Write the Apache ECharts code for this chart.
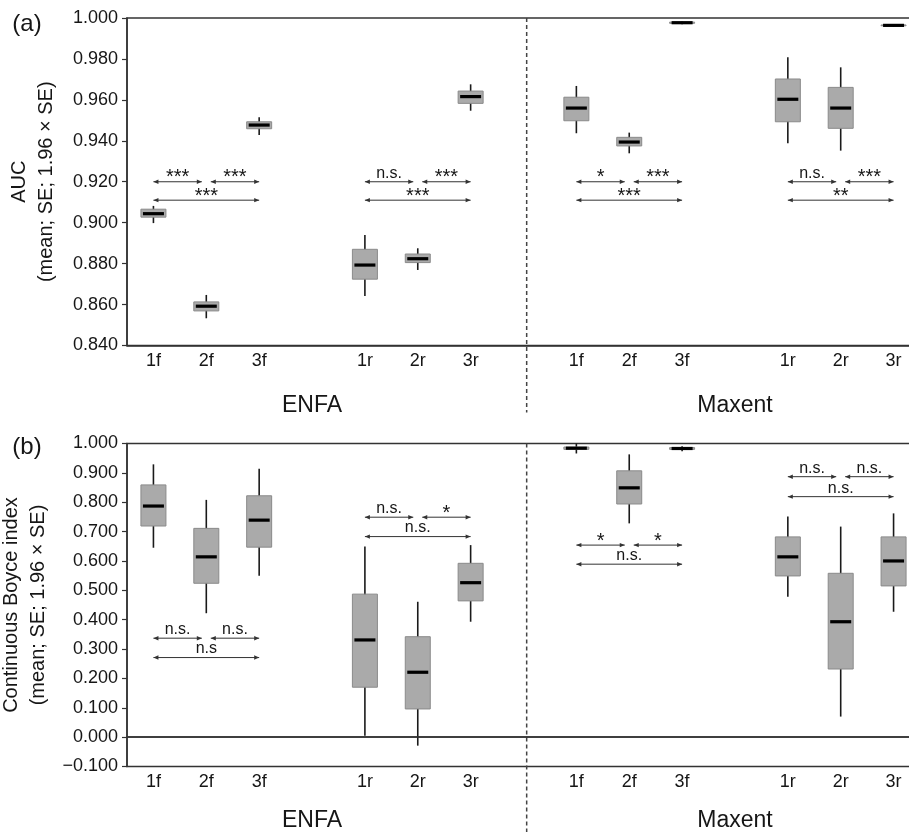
<!DOCTYPE html>
<html>
<head>
<meta charset="utf-8">
<script src="https://cdn.jsdelivr.net/npm/echarts@6/dist/echarts.min.js"></script>
<style>
  html, body { margin: 0; padding: 0; background: #fff; }
  #chart { width: 909px; height: 832px; }
</style>
</head>
<body>
<div id="chart"></div>
<script>
// x categories, blank slots are the gaps between groups
const tickLabels = ['1f', '2f', '3f', '', '1r', '2r', '3r', '', '1f', '2f', '3f', '', '1r', '2r', '3r']
const groupNames = ['ENFA', 'Maxent']
// slot of each box on the category axis
const boxSlots = [0, 1, 2, 4, 5, 6, 8, 9, 10, 12, 13, 14]

// [low whisker, Q1, median, Q3, high whisker]
const aucBoxes = [
  [0.8998, 0.9027, 0.9044, 0.9066, 0.9082],
  [0.8533, 0.8569, 0.8592, 0.8613, 0.8647],
  [0.9428, 0.9459, 0.9477, 0.9493, 0.9515],
  [0.8642, 0.8724, 0.8793, 0.8870, 0.8940],
  [0.8769, 0.8805, 0.8824, 0.8847, 0.8875],
  [0.9547, 0.9583, 0.9616, 0.9643, 0.9676],
  [0.9437, 0.9498, 0.9560, 0.9613, 0.9668],
  [0.9339, 0.9375, 0.9394, 0.9417, 0.9440],
  [0.9970, 0.9974, 0.9977, 0.9980, 0.9983],
  [0.9388, 0.9493, 0.9603, 0.9702, 0.9808],
  [0.9352, 0.9461, 0.9560, 0.9661, 0.9759],
  [0.9958, 0.9962, 0.9964, 0.9966, 0.9970]
]
const boyceBoxes = [
  [0.645, 0.719, 0.787, 0.859, 0.929],
  [0.422, 0.524, 0.614, 0.711, 0.808],
  [0.550, 0.647, 0.739, 0.822, 0.914],
  [0.005, 0.170, 0.331, 0.487, 0.649],
  [-0.029, 0.096, 0.221, 0.342, 0.461],
  [0.393, 0.464, 0.526, 0.592, 0.654],
  [0.966, 0.980, 0.984, 0.988, 1.000],
  [0.728, 0.794, 0.849, 0.907, 0.963],
  [0.974, 0.980, 0.983, 0.986, 0.991],
  [0.478, 0.549, 0.614, 0.682, 0.751],
  [0.070, 0.232, 0.393, 0.558, 0.717],
  [0.427, 0.515, 0.600, 0.682, 0.762]
]

// significance arrows: [from slot, to slot, y, text, trim start, trim end]
const aucTests = [
  [0, 1, 0.920, '***', 0, 1], [1, 2, 0.920, '***', 1, 0], [0, 2, 0.911, '***', 0, 0],
  [4, 5, 0.920, 'n.s.', 0, 1], [5, 6, 0.920, '***', 1, 0], [4, 6, 0.911, '***', 0, 0],
  [8, 9, 0.920, '*', 0, 1], [9, 10, 0.920, '***', 1, 0], [8, 10, 0.911, '***', 0, 0],
  [12, 13, 0.920, 'n.s.', 0, 1], [13, 14, 0.920, '***', 1, 0], [12, 14, 0.911, '**', 0, 0]
]
const boyceTests = [
  [0, 1, 0.337, 'n.s.', 0, 1], [1, 2, 0.337, 'n.s.', 1, 0], [0, 2, 0.271, 'n.s', 0, 0],
  [4, 5, 0.749, 'n.s.', 0, 1], [5, 6, 0.749, '*', 1, 0], [4, 6, 0.683, 'n.s.', 0, 0],
  [8, 9, 0.654, '*', 0, 1], [9, 10, 0.654, '*', 1, 0], [8, 10, 0.589, 'n.s.', 0, 0],
  [12, 13, 0.887, 'n.s.', 0, 1], [13, 14, 0.887, 'n.s.', 1, 0], [12, 14, 0.819, 'n.s.', 0, 0]
]

const FONT = '"Liberation Sans", Arial, sans-serif'
const INK = '#161616'

function renderBox(params, api) {
  const x = api.value(0)
  const lo = api.coord([x, api.value(1)])
  const q1 = api.coord([x, api.value(2)])
  const md = api.coord([x, api.value(3)])
  const q3 = api.coord([x, api.value(4)])
  const hi = api.coord([x, api.value(5)])
  const half = 12.5
  const cx = md[0]
  return {
    type: 'group',
    children: [
      { type: 'line', shape: { x1: cx, y1: hi[1], x2: cx, y2: lo[1] }, style: { stroke: '#1a1a1a', lineWidth: 1.6 } },
      { type: 'rect', shape: { x: cx - half, y: q3[1], width: half * 2, height: q1[1] - q3[1] }, style: { fill: '#aaaaaa', stroke: '#8a8a8a', lineWidth: 1 } },
      { type: 'line', shape: { x1: cx - half + 2, y1: md[1], x2: cx + half - 2, y2: md[1] }, style: { stroke: '#000', lineWidth: 3.2 } }
    ]
  }
}

function testRenderer(tests) {
  return function (params, api) {
    const t = tests[params.dataIndex]
    const a = api.coord([t[0], t[2]])
    const b = api.coord([t[1], t[2]])
    const band = api.size([1, 0])[0]
    const x1 = a[0] + t[4] * band * 0.085
    const x2 = b[0] - t[5] * band * 0.085
    const y = a[1]
    const stars = t[3].charAt(0) === '*'
    return {
      type: 'group',
      children: [
        { type: 'line', shape: { x1: x1, y1: y, x2: x2, y2: y }, style: { stroke: '#333', lineWidth: 1 } },
        { type: 'polygon', shape: { points: [[x1, y], [x1 + 5, y - 2.2], [x1 + 5, y + 2.2]] }, style: { fill: '#333' } },
        { type: 'polygon', shape: { points: [[x2, y], [x2 - 5, y - 2.2], [x2 - 5, y + 2.2]] }, style: { fill: '#333' } },
        {
          type: 'text', x: (x1 + x2) / 2, y: stars ? y - 4 : y - 8.5,
          style: { text: t[3], fill: INK, fontFamily: FONT, fontSize: stars ? 20 : 16, align: 'center', verticalAlign: 'middle' }
        }
      ]
    }
  }
}

function makeYAxis(gridIndex, min, max, step, title) {
  return {
    type: 'value', gridIndex: gridIndex, min: min, max: max, interval: step,
    axisLine: { show: true, lineStyle: { color: '#333', width: 1.5 } },
    axisTick: { show: true, length: 5, lineStyle: { color: '#333', width: 1.2 } },
    axisLabel: {
      fontSize: 18, color: INK, fontFamily: FONT, margin: 9,
      formatter: v => (v < 0 ? '\u2212' + Math.abs(v).toFixed(3) : v.toFixed(3))
    },
    splitLine: { show: false },
    name: title, nameLocation: 'middle', nameGap: 67,
    nameTextStyle: { fontSize: 20, lineHeight: 27, color: INK, fontFamily: FONT, align: 'center' }
  }
}

function makeXAxis(gridIndex) {
  return {
    type: 'category', gridIndex: gridIndex, data: tickLabels,
    axisLine: { show: true, lineStyle: { color: '#333', width: 1.5 } },
    axisTick: { show: false },
    axisLabel: { interval: 0, fontSize: 18, color: INK, fontFamily: FONT, margin: 7 },
    splitLine: { show: false }
  }
}

const chart = echarts.init(document.getElementById('chart'))
const gridBase = { left: 127, width: 793, show: true, borderColor: '#333', borderWidth: 1.5, backgroundColor: 'transparent', outerBoundsMode: 'none', containLabel: false }

chart.setOption({
  animation: false,
  textStyle: { fontFamily: FONT },
  grid: [
    Object.assign({ top: 18, height: 327.5 }, gridBase),
    Object.assign({ top: 443.5, height: 323 }, gridBase)
  ],
  xAxis: [makeXAxis(0), makeXAxis(1)],
  yAxis: [
    makeYAxis(0, 0.84, 1.0, 0.02, 'AUC\n(mean; SE; 1.96 × SE)'),
    makeYAxis(1, -0.1, 1.0, 0.1, 'Continuous Boyce index\n(mean; SE; 1.96 × SE)')
  ],
  series: [
    {
      type: 'custom', xAxisIndex: 0, yAxisIndex: 0, renderItem: renderBox,
      encode: { x: 0, y: [1, 2, 3, 4, 5] },
      data: boxSlots.map((s, i) => [s].concat(aucBoxes[i]))
    },
    {
      type: 'custom', xAxisIndex: 1, yAxisIndex: 1, renderItem: renderBox,
      encode: { x: 0, y: [1, 2, 3, 4, 5] },
      data: boxSlots.map((s, i) => [s].concat(boyceBoxes[i]))
    },
    {
      type: 'custom', xAxisIndex: 0, yAxisIndex: 0, renderItem: testRenderer(aucTests),
      encode: { x: [0, 1], y: 2 },
      data: aucTests.map(t => [t[0], t[1], t[2]])
    },
    {
      type: 'custom', xAxisIndex: 1, yAxisIndex: 1, renderItem: testRenderer(boyceTests),
      encode: { x: [0, 1], y: 2 },
      data: boyceTests.map(t => [t[0], t[1], t[2]]),
      markLine: {
        silent: true, symbol: 'none', label: { show: false },
        lineStyle: { color: '#333', width: 1.5, type: 'solid' },
        data: [{ yAxis: 0 }]
      }
    }
  ]
})

// separator, group names and panel letters, placed from the axes
const pa = i => chart.convertToPixel({ gridIndex: 0 }, [i, 0.84])
const pb = i => chart.convertToPixel({ gridIndex: 1 }, [i, -0.1])
const topA = chart.convertToPixel({ gridIndex: 0 }, [0, 1.0])[1]
const topB = chart.convertToPixel({ gridIndex: 1 }, [0, 1.0])[1]
const band = pa(1)[0] - pa(0)[0]
const sepX = pa(7)[0] + band * 0.06
const bottomA = pa(0)[1]
const bottomB = pb(0)[1]

const groupText = (x, y, text) => ({
  type: 'text', x: x, y: y,
  style: { text: text, fontSize: 23, fill: INK, fontFamily: FONT, align: 'center', verticalAlign: 'middle' }
})

chart.setOption({
  graphic: [
    { type: 'line', shape: { x1: sepX, y1: topA, x2: sepX, y2: bottomA + 67 }, style: { stroke: '#444', lineWidth: 1.5, lineDash: [4, 3] } },
    { type: 'line', shape: { x1: sepX, y1: topB, x2: sepX, y2: 832 }, style: { stroke: '#444', lineWidth: 1.5, lineDash: [4, 3] } },
    groupText((pa(0)[0] + pa(6)[0]) / 2, bottomA + 60, groupNames[0]),
    groupText((pa(8)[0] + pa(14)[0]) / 2, bottomA + 60, groupNames[1]),
    groupText((pb(0)[0] + pb(6)[0]) / 2, bottomB + 54, groupNames[0]),
    groupText((pb(8)[0] + pb(14)[0]) / 2, bottomB + 54, groupNames[1]),
    { type: 'text', x: 27, y: 24, style: { text: '(a)', fontSize: 24, fill: INK, fontFamily: FONT, align: 'center', verticalAlign: 'middle' } },
    { type: 'text', x: 27, y: 447, style: { text: '(b)', fontSize: 24, fill: INK, fontFamily: FONT, align: 'center', verticalAlign: 'middle' } }
  ]
})
</script>
</body>
</html>
